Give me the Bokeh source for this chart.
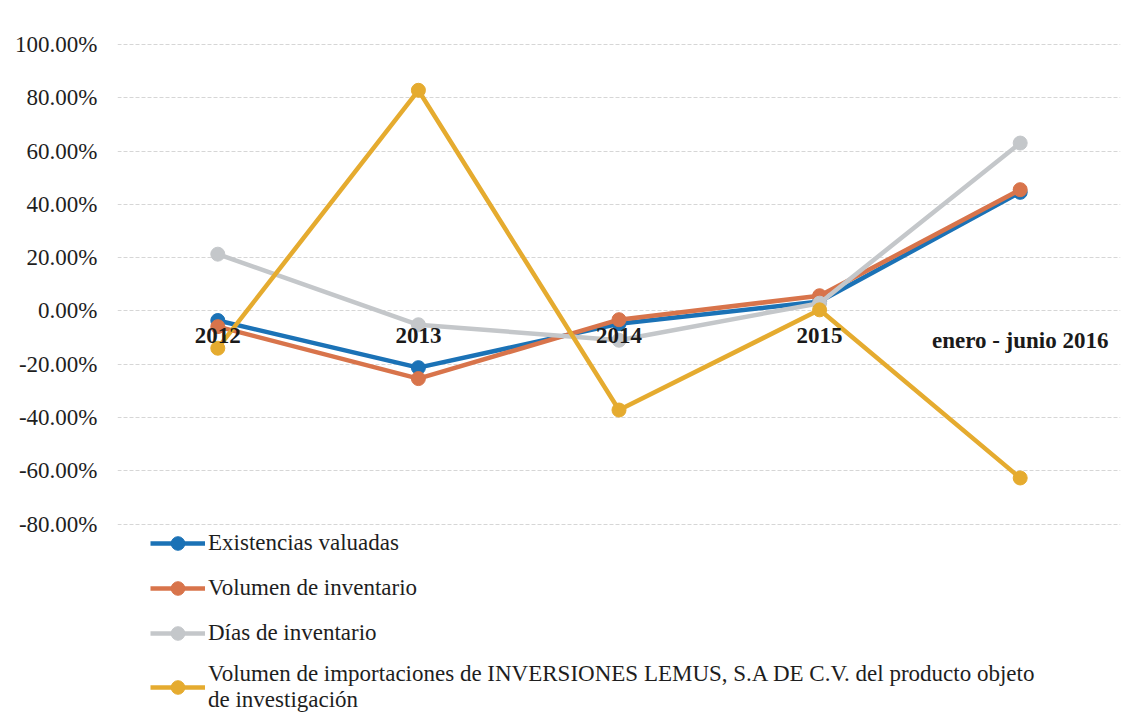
from bokeh.plotting import figure
from bokeh.models import (ColumnDataSource, NumeralTickFormatter, FixedTicker, Range1d,
                          Legend, LegendItem)
from bokeh.core.properties import value
from bokeh.embed import file_html
from bokeh.resources import INLINE

categories = ["2012", "2013", "2014", "2015", "enero - junio 2016"]
existencias = [-0.036, -0.213, -0.048, 0.035, 0.445]
volumen_inv = [-0.059, -0.254, -0.033, 0.057, 0.455]
dias_inv = [0.213, -0.052, -0.110, 0.029, 0.630]
importaciones = [-0.140, 0.828, -0.372, 0.004, -0.627]
y_ticks = [-0.8, -0.6, -0.4, -0.2, 0.0, 0.2, 0.4, 0.6, 0.8, 1.0]

series = [
    ("Existencias valuadas", existencias, "#1b72b6"),
    ("Volumen de inventario", volumen_inv, "#d8744b"),
    ("Días de inventario", dias_inv, "#c4c7ca"),
    ("Volumen de importaciones de INVERSIONES LEMUS, S.A DE C.V. del producto objeto\nde investigación",
     importaciones, "#e5ab2f"),
]

FONT = "'Liberation Serif', serif"
xs = list(range(len(categories)))

p = figure(width=1127, height=717, output_backend="svg", toolbar_location=None,
           x_range=Range1d(-0.5, 4.5), y_range=Range1d(-1.526, 1.12),
           min_border_left=117, min_border_right=7, min_border_top=12, min_border_bottom=0)
p.outline_line_color = None
p.xaxis.visible = False
p.xgrid.visible = False

p.yaxis.ticker = FixedTicker(ticks=y_ticks)
p.yaxis.formatter = NumeralTickFormatter(format="0.00%")
p.yaxis.axis_line_color = None
p.yaxis.major_tick_line_color = None
p.yaxis.minor_tick_line_color = None
p.yaxis.major_label_standoff = 14
p.yaxis.major_label_text_font = FONT
p.yaxis.major_label_text_font_size = "23px"
p.yaxis.major_label_text_color = "#1e1e1e"

p.ygrid.ticker = FixedTicker(ticks=y_ticks)
p.ygrid.grid_line_color = "#d6d6d6"
p.ygrid.grid_line_dash = "4 2"
p.ygrid.grid_line_width = 1

items = []
for label, vals, color in series:
    src = ColumnDataSource(dict(x=xs, y=vals))
    r1 = p.line("x", "y", source=src, line_color=color, line_width=4.5)
    r2 = p.scatter("x", "y", source=src, size=14, fill_color=color, line_color=color)
    items.append(LegendItem(label=label, renderers=[r1, r2]))

lab_src = ColumnDataSource(dict(x=xs, y=[0.0] * len(xs), t=categories))
p.text("x", "y", text="t", source=lab_src, text_align="center", text_baseline="top",
       y_offset=17, text_font=value(FONT), text_font_style="bold",
       text_font_size="23px", text_color="#1a1a1a")

legend = Legend(items=items, location=(33, 4), orientation="vertical",
                label_text_font=FONT, label_text_font_size="23px",
                label_text_color="#1e1e1e", glyph_width=55, glyph_height=34,
                label_height=20, label_standoff=3, spacing=11, padding=0, margin=0,
                border_line_color=None, background_fill_alpha=0)
p.add_layout(legend)

open("out.html", "w").write(file_html(p, INLINE))
